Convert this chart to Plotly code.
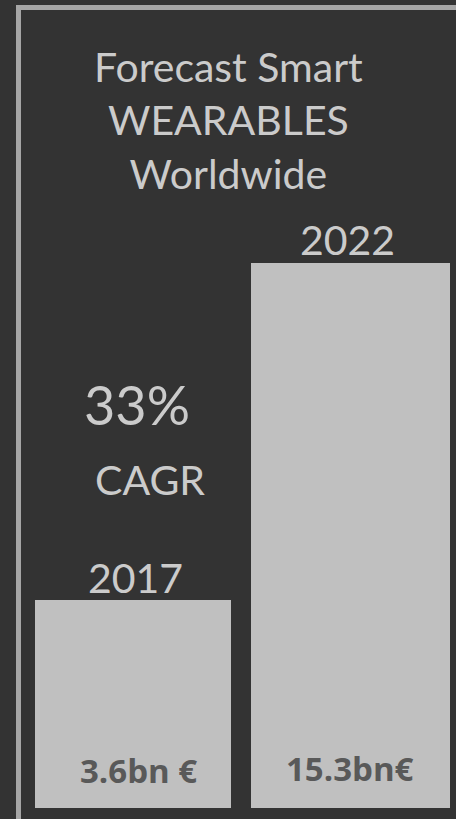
import plotly.graph_objects as go

# ---- data ----
categories = ["2017", "2022"]
value_labels = ["3.6bn €", "15.3bn€"]          # market size labels
bar_heights = [208, 545]                        # drawn bar heights (chart units, as pictured)
title_lines = ["Forecast Smart", "WEARABLES", "Worldwide"]
cagr_value = "33%"
cagr_label = "CAGR"

BG = "#333333"
BAR = "#c0c0c0"
TXT = "#cbcbcb"
VAL = "#595959"
BORDER = "#a6a6a6"

fig = go.Figure()
fig.add_trace(go.Bar(
    x=categories, y=bar_heights,
    width=[0.901, 0.915],
    marker=dict(color=BAR, line=dict(width=0)),
    hoverinfo="skip", showlegend=False,
))

i0, i1 = 0, 1  # category indices
ann = []
# title
ann.append(dict(text="<br>".join(title_lines), xref="paper", yref="y",
                x=229/456, y=688, xanchor="center", yanchor="middle",
                showarrow=False, font=dict(family="Lato", size=41, color=TXT)))
# year labels above bars
ann.append(dict(text=categories[1], xref="x", yref="y", x=i1, xshift=-3,
                y=bar_heights[1] + 24, xanchor="center", yanchor="middle",
                showarrow=False, font=dict(family="Lato", size=41, color=TXT)))
ann.append(dict(text=categories[0], xref="x", yref="y", x=i0, xshift=2,
                y=bar_heights[0] + 23, xanchor="center", yanchor="middle",
                showarrow=False, font=dict(family="Lato", size=41, color=TXT)))
# CAGR
ann.append(dict(text=cagr_value, xref="x", yref="y", x=i0, xshift=4,
                y=404, xanchor="center", yanchor="middle",
                showarrow=False, font=dict(family="Lato", size=54, color=TXT)))
ann.append(dict(text=cagr_label, xref="x", yref="y", x=i0, xshift=17,
                y=329, xanchor="center", yanchor="middle",
                showarrow=False, font=dict(family="Lato", size=41, color=TXT)))
# value labels inside bars
ann.append(dict(text="<b>%s</b>" % value_labels[0], xref="x", yref="y", x=i0, xshift=5,
                y=38, xanchor="center", yanchor="middle",
                showarrow=False, font=dict(family="Open Sans", size=33, color=VAL)))
ann.append(dict(text="<b>%s</b>" % value_labels[1], xref="x", yref="y", x=i1, xshift=-1,
                y=40, xanchor="center", yanchor="middle",
                showarrow=False, font=dict(family="Open Sans", size=33, color=VAL)))

fig.update_layout(
    width=456, height=819,
    margin=dict(l=0, r=0, t=0, b=0),
    paper_bgcolor=BG, plot_bgcolor=BG,
    xaxis=dict(type="category", range=[-0.6115, 1.485], visible=False, fixedrange=True),
    yaxis=dict(range=[-11, 808], visible=False, fixedrange=True),
    annotations=ann,
    shapes=[dict(type="rect", xref="paper", yref="paper",
                 x0=18.5/456, x1=1.05, y0=-0.05, y1=(819-7.5)/819,
                 line=dict(color=BORDER, width=5), fillcolor="rgba(0,0,0,0)", layer="above")],
    bargap=0,
)

fig.write_html(
    "out.html",
    config={"displayModeBar": False},
    post_script=("document.body.style.margin='0';"
                 "document.body.style.overflow='hidden';"
                 "document.documentElement.style.overflow='hidden';"
                 "document.body.style.background='%s';" % BG),
)
